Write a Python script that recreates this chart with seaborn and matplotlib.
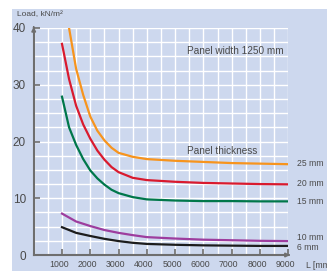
import pandas as pd
import numpy as np
import seaborn as sns
import matplotlib.pyplot as plt
import matplotlib.transforms as mtransforms
from matplotlib.patches import Rectangle

# values (span L in mm, load in kN/m2)
L_25 = [1250, 1500, 1750, 2000, 2250, 2500, 2750, 3000, 3500, 4000, 5000, 6000, 7000, 8000, 9000]
load_25 = [40.0, 32.8, 28.2, 24.4, 21.9, 20.2, 18.9, 18.0, 17.3, 16.9, 16.6, 16.4, 16.2, 16.1, 16.0]

L_20 = [1000, 1250, 1500, 1750, 2000, 2250, 2500, 2750, 3000, 3500, 4000, 5000, 6000, 7000, 8000, 9000]
load_20 = [37.2, 31.0, 26.3, 23.0, 20.5, 18.4, 16.8, 15.5, 14.6, 13.6, 13.2, 12.9, 12.7, 12.6, 12.5, 12.45]

L_15 = [1000, 1250, 1500, 1750, 2000, 2250, 2500, 2750, 3000, 3500, 4000, 5000, 6000, 7000, 8000, 9000]
load_15 = [27.9, 22.5, 19.4, 16.9, 14.9, 13.5, 12.4, 11.5, 10.9, 10.2, 9.8, 9.6, 9.5, 9.5, 9.45, 9.45]

L_10 = [1000, 1250, 1500, 2000, 2500, 3000, 3500, 4000, 5000, 6000, 7000, 8000, 9000]
load_10 = [7.3, 6.6, 5.9, 5.1, 4.4, 3.9, 3.5, 3.15, 2.9, 2.7, 2.6, 2.5, 2.45]

L_6 = [1000, 1250, 1500, 2000, 2500, 3000, 3500, 4000, 5000, 6000, 7000, 8000, 9000]
load_6 = [4.9, 4.4, 3.9, 3.35, 2.85, 2.45, 2.15, 1.95, 1.8, 1.7, 1.65, 1.6, 1.6]

thickness = ['25 mm', '20 mm', '15 mm', '10 mm', '6 mm']
colors = ['#f7941d', '#d91a2e', '#00774a', '#9d3d9e', '#1c1c1c']
x_ticks = [1000, 2000, 3000, 4000, 5000, 6000, 7000, 8000, 9000]
y_ticks = [0, 10, 20, 30, 40]

rows = []
for name, xs, ys in zip(thickness, [L_25, L_20, L_15, L_10, L_6],
                        [load_25, load_20, load_15, load_10, load_6]):
    for a, b in zip(xs, ys):
        rows.append({'L': a, 'load': b, 'thickness': name})
df = pd.DataFrame(rows)

bg = '#cdd8ee'
axis_c = '#6e6e6e'
txt_c = '#4a4a4a'
plt.rcParams['font.family'] = ['Liberation Sans', 'DejaVu Sans']

fig = plt.figure(figsize=(3.27, 2.71), dpi=100)
fig.patches.append(Rectangle((12 / 327, 0), 1, 1 - 9 / 271, transform=fig.transFigure,
                             facecolor=bg, edgecolor='none', zorder=-5))
ax = fig.add_axes([33.7 / 327, 16 / 271, 254.6 / 327, 227 / 271])
ax.set_facecolor(bg)

sns.lineplot(data=df, x='L', y='load', hue='thickness', hue_order=thickness,
             palette=colors, linewidth=1.6, legend=False, ax=ax, zorder=3)

ax.set_xlim(0, 9000)
ax.set_ylim(0, 40)
ax.set_xticks(x_ticks)
ax.set_xticks(np.arange(0, 9001, 500), minor=True)
ax.set_yticks(y_ticks)
ax.set_yticks(np.arange(0, 40.1, 2.5), minor=True)
ax.grid(which='both', color='white', linewidth=1.0, zorder=1)
ax.set_axisbelow(True)
ax.set_xlabel('')
ax.set_ylabel('')

for s in ['top', 'right']:
    ax.spines[s].set_visible(False)
for s in ['left', 'bottom']:
    ax.spines[s].set_color(axis_c)
    ax.spines[s].set_linewidth(1.5)
    ax.spines[s].set_zorder(4)

ax.tick_params(which='major', direction='in', length=4.5, width=1.2, color=axis_c)
ax.tick_params(which='minor', length=0)
ax.tick_params(axis='y', labelsize=8.5, pad=5.5, labelcolor=txt_c)
ax.tick_params(axis='x', labelsize=6.3, pad=3.5, labelcolor=txt_c)
ax.set_xticklabels([str(v) for v in x_ticks])
shift = mtransforms.ScaledTranslation(-3 / 100, 0, fig.dpi_scale_trans)
for lab in ax.get_xticklabels():
    lab.set_transform(lab.get_transform() + shift)

# axis arrows
ax.annotate('', xy=(1.018, 0), xytext=(0.99, 0), xycoords='axes fraction',
            arrowprops=dict(arrowstyle='-|>', color=axis_c, lw=1.2, mutation_scale=6),
            annotation_clip=False)
ax.annotate('', xy=(0, 1.018), xytext=(0, 0.99), xycoords='axes fraction',
            arrowprops=dict(arrowstyle='-|>', color=axis_c, lw=1.2, mutation_scale=6),
            annotation_clip=False)

fig.text(17 / 327, 1 - 15 / 271, 'Load, kN/m²', fontsize=6, color=txt_c, va='center', ha='left')
fig.text(306 / 327, 1 - 266 / 271, 'L [mm]', fontsize=6.3, color=txt_c, va='center', ha='left')
fig.text(187 / 327, 1 - 51 / 271, 'Panel width 1250 mm', fontsize=7.2, color=txt_c, va='center', ha='left')
fig.text(187 / 327, 1 - 151 / 271, 'Panel thickness', fontsize=7.2, color=txt_c, va='center', ha='left')

label_y = [164, 183, 201, 237, 247]
for name, yy in zip(thickness, label_y):
    fig.text(297 / 327, 1 - yy / 271, name, fontsize=6.2, color=txt_c, va='center', ha='left')

plt.savefig('out.png', dpi=100)
